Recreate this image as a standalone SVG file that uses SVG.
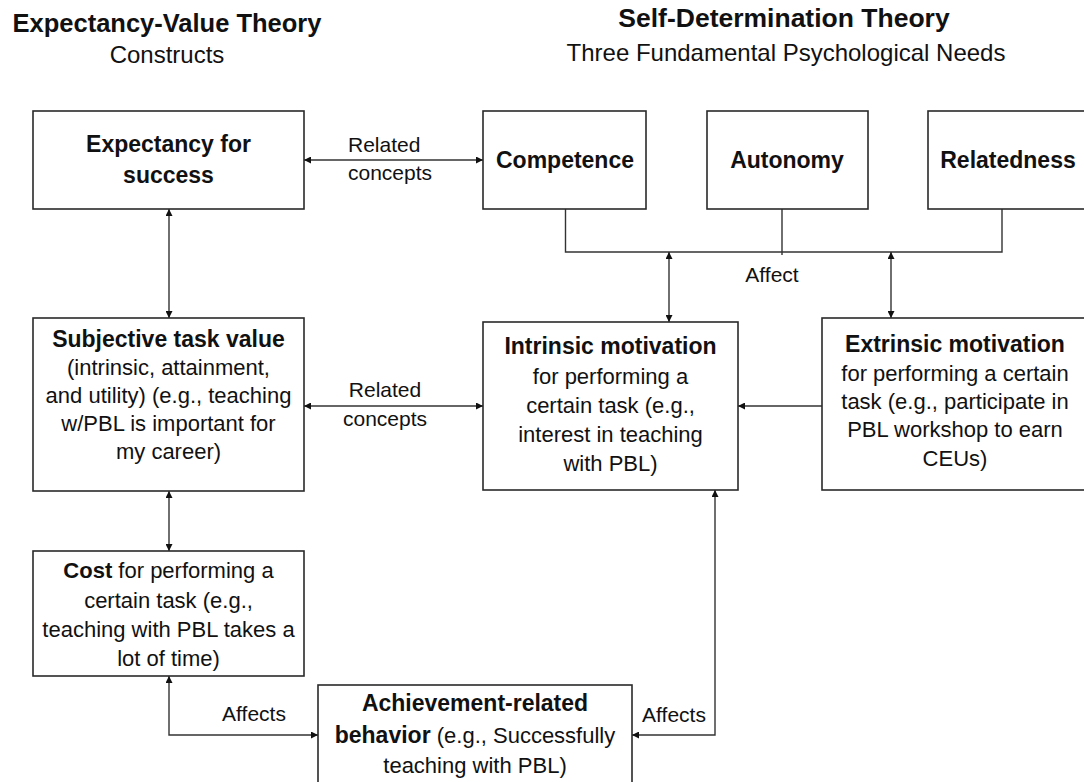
<svg xmlns="http://www.w3.org/2000/svg" width="1084" height="782" viewBox="0 0 1084 782">
<defs>
<style>
text{font-family:"Liberation Sans",Arial,sans-serif;fill:#111;}
.t{font-size:25.5px;font-weight:bold;}
.t2{font-size:26.5px;font-weight:bold;}
.st{font-size:24px;}
.h{font-size:23px;font-weight:bold;text-anchor:middle;}
.b{font-size:22px;text-anchor:middle;}
.lb{font-size:21px;}
.bx{fill:#fff;stroke:#2a2a2a;stroke-width:1.6;}
.cn{fill:none;stroke:#333;stroke-width:1.4;}
.bold{font-weight:bold;}
</style>
<marker id="ah" viewBox="0 0 10 10" refX="10" refY="5" markerWidth="8" markerHeight="7" markerUnits="userSpaceOnUse" orient="auto-start-reverse">
<path d="M0,0 L10,5 L0,10 z" fill="#111"/>
</marker>
</defs>
<rect width="1084" height="782" fill="#fff"/>

<g id="titles">
<text class="t" x="167" y="32" text-anchor="middle">Expectancy-Value Theory</text>
<text class="st" x="167" y="63" text-anchor="middle">Constructs</text>
<text class="t2" x="784" y="27" text-anchor="middle">Self-Determination Theory</text>
<text class="st" x="786" y="61" text-anchor="middle">Three Fundamental Psychological Needs</text>
</g>

<g id="connectors">
<line class="cn" x1="304" y1="160" x2="483" y2="160" marker-start="url(#ah)" marker-end="url(#ah)"/>
<line class="cn" x1="169" y1="209" x2="169" y2="318" marker-start="url(#ah)" marker-end="url(#ah)"/>
<line class="cn" x1="304" y1="406" x2="483" y2="406" marker-start="url(#ah)" marker-end="url(#ah)"/>
<line class="cn" x1="822" y1="406" x2="738" y2="406" marker-end="url(#ah)"/>
<line class="cn" x1="169" y1="491" x2="169" y2="551" marker-start="url(#ah)" marker-end="url(#ah)"/>
<polyline class="cn" points="565.5,209 565.5,252 1002,252 1002,209"/>
<line class="cn" x1="782" y1="209" x2="782" y2="255"/>
<line class="cn" x1="669" y1="252" x2="669" y2="322" marker-start="url(#ah)" marker-end="url(#ah)"/>
<line class="cn" x1="891" y1="252" x2="891" y2="318" marker-start="url(#ah)" marker-end="url(#ah)"/>
<polyline class="cn" points="169,676 169,735 318,735" marker-start="url(#ah)" marker-end="url(#ah)"/>
<polyline class="cn" points="715,490 715,735 632,735" marker-start="url(#ah)" marker-end="url(#ah)"/>
<text class="lb" x="348" y="152">Related</text>
<text class="lb" x="348" y="180">concepts</text>
<text class="lb" x="385" y="397" text-anchor="middle">Related</text>
<text class="lb" x="385" y="426" text-anchor="middle">concepts</text>
<text class="lb" x="772" y="282" text-anchor="middle">Affect</text>
<text class="lb" x="254" y="721" text-anchor="middle">Affects</text>
<text class="lb" x="674" y="722" text-anchor="middle">Affects</text>
</g>

<g id="expectancy">
<rect class="bx" x="33" y="111" width="271" height="98"/>
<text class="h" x="168.5" y="152">Expectancy for</text>
<text class="h" x="168.5" y="183">success</text>
</g>

<g id="competence">
<rect class="bx" x="483" y="111" width="163" height="98"/>
<text class="h" x="565" y="168">Competence</text>
</g>

<g id="autonomy">
<rect class="bx" x="707" y="111" width="161" height="98"/>
<text class="h" x="787" y="168">Autonomy</text>
</g>

<g id="relatedness">
<rect class="bx" x="928" y="111" width="162" height="98"/>
<text class="h" x="1008" y="168">Relatedness</text>
</g>

<g id="subjective">
<rect class="bx" x="33" y="318" width="271" height="173"/>
<text class="h" x="168.5" y="347">Subjective task value</text>
<text class="b" x="168.5" y="375">(intrinsic, attainment,</text>
<text class="b" x="168.5" y="403">and utility) (e.g., teaching</text>
<text class="b" x="168.5" y="431">w/PBL is important for</text>
<text class="b" x="168.5" y="459">my career)</text>
</g>

<g id="intrinsic">
<rect class="bx" x="483" y="322" width="255" height="168"/>
<text class="h" x="610.5" y="354">Intrinsic motivation</text>
<text class="b" x="610.5" y="384">for performing a</text>
<text class="b" x="610.5" y="413">certain task (e.g.,</text>
<text class="b" x="610.5" y="442">interest in teaching</text>
<text class="b" x="610.5" y="471">with PBL)</text>
</g>

<g id="extrinsic">
<rect class="bx" x="822" y="318" width="268" height="172"/>
<text class="h" x="955" y="352">Extrinsic motivation</text>
<text class="b" x="955" y="381">for performing a certain</text>
<text class="b" x="955" y="409">task (e.g., participate in</text>
<text class="b" x="955" y="437">PBL workshop to earn</text>
<text class="b" x="955" y="466">CEUs)</text>
</g>

<g id="cost">
<rect class="bx" x="33" y="551" width="271" height="125"/>
<text class="b" x="168.5" y="578"><tspan class="bold">Cost</tspan> for performing a</text>
<text class="b" x="168.5" y="608">certain task (e.g.,</text>
<text class="b" x="168.5" y="637">teaching with PBL takes a</text>
<text class="b" x="168.5" y="666">lot of time)</text>
</g>

<g id="achievement">
<rect class="bx" x="318" y="685" width="314" height="120"/>
<text class="h" x="475" y="711">Achievement-related</text>
<text class="b" x="475" y="743"><tspan class="bold" font-size="23px">behavior</tspan> (e.g., Successfully</text>
<text class="b" x="475" y="773">teaching with PBL)</text>
</g>
</svg>
